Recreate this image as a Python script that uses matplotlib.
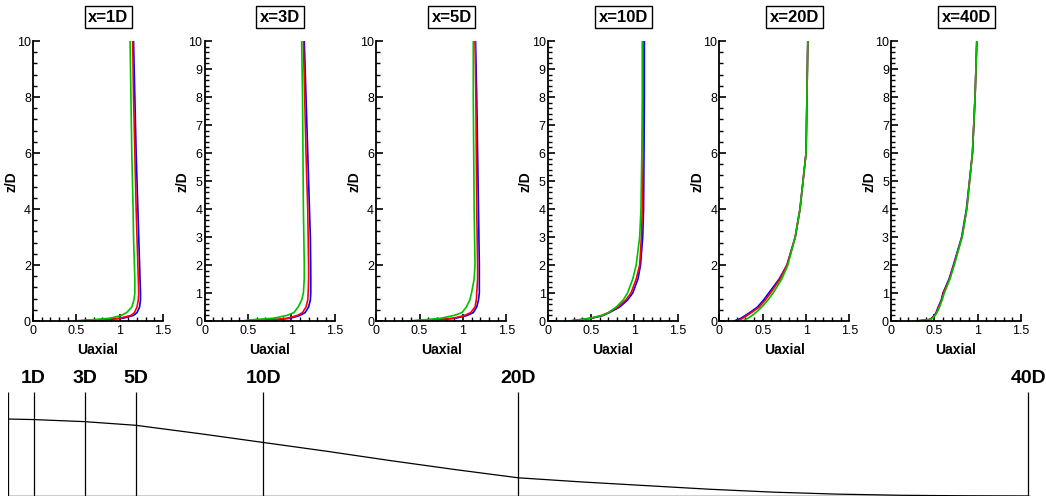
import matplotlib.pyplot as plt
from matplotlib.ticker import MultipleLocator

plt.rcParams['font.family'] = ['Liberation Sans', 'DejaVu Sans']

# stations and profile data
stations = [1, 3, 5, 10, 20, 40]
titles = ["x=1D", "x=3D", "x=5D", "x=10D", "x=20D", "x=40D"]
ymajor = [2, 1, 2, 1, 2, 1]

z = [0, 0.05, 0.1, 0.2, 0.3, 0.5, 0.75, 1, 1.5, 2, 3, 4, 6, 8, 10]

u_blue = [
    [0.50, 0.85, 1.04, 1.16, 1.20, 1.23, 1.24, 1.24, 1.235, 1.23, 1.22, 1.21, 1.19, 1.175, 1.16],
    [0.45, 0.84, 0.99, 1.10, 1.16, 1.20, 1.22, 1.225, 1.225, 1.224, 1.22, 1.21, 1.19, 1.17, 1.15],
    [0.40, 0.75, 0.92, 1.05, 1.12, 1.16, 1.18, 1.19, 1.19, 1.19, 1.185, 1.18, 1.17, 1.16, 1.146],
    [0.26, 0.39, 0.51, 0.64, 0.71, 0.83, 0.92, 0.98, 1.04, 1.07, 1.095, 1.105, 1.11, 1.114, 1.114],
    [0.17, 0.21, 0.25, 0.30, 0.35, 0.44, 0.51, 0.57, 0.69, 0.78, 0.875, 0.93, 1.00, 1.01, 1.02],
    [0.30, 0.44, 0.47, 0.50, 0.52, 0.545, 0.58, 0.60, 0.67, 0.72, 0.815, 0.87, 0.94, 0.97, 0.99],
]
u_red = [
    [0.50, 0.82, 1.00, 1.13, 1.17, 1.20, 1.215, 1.22, 1.215, 1.21, 1.20, 1.19, 1.175, 1.16, 1.15],
    [0.45, 0.80, 0.96, 1.07, 1.13, 1.17, 1.19, 1.195, 1.20, 1.20, 1.195, 1.19, 1.17, 1.155, 1.14],
    [0.40, 0.72, 0.89, 1.02, 1.09, 1.14, 1.155, 1.16, 1.17, 1.17, 1.165, 1.16, 1.155, 1.15, 1.14],
    [0.26, 0.38, 0.50, 0.63, 0.70, 0.81, 0.90, 0.96, 1.02, 1.06, 1.08, 1.09, 1.10, 1.10, 1.10],
    [0.21, 0.24, 0.27, 0.32, 0.37, 0.46, 0.53, 0.59, 0.70, 0.78, 0.875, 0.93, 1.00, 1.01, 1.02],
    [0.30, 0.445, 0.47, 0.505, 0.525, 0.55, 0.585, 0.605, 0.675, 0.725, 0.82, 0.875, 0.94, 0.97, 0.99],
]
u_green = [
    [0.47, 0.70, 0.89, 1.02, 1.08, 1.14, 1.165, 1.175, 1.175, 1.17, 1.16, 1.155, 1.14, 1.13, 1.12],
    [0.42, 0.57, 0.80, 0.95, 1.03, 1.08, 1.12, 1.14, 1.15, 1.15, 1.145, 1.14, 1.135, 1.13, 1.12],
    [0.37, 0.58, 0.75, 0.90, 0.99, 1.04, 1.08, 1.10, 1.13, 1.14, 1.135, 1.13, 1.125, 1.12, 1.12],
    [0.24, 0.37, 0.49, 0.62, 0.70, 0.79, 0.87, 0.92, 0.98, 1.02, 1.06, 1.075, 1.085, 1.09, 1.09],
    [0.27, 0.30, 0.33, 0.38, 0.42, 0.49, 0.56, 0.62, 0.72, 0.79, 0.875, 0.93, 1.00, 1.01, 1.02],
    [0.30, 0.45, 0.48, 0.51, 0.53, 0.56, 0.59, 0.615, 0.68, 0.73, 0.82, 0.875, 0.94, 0.97, 0.99],
]

# bottom sketch: wake outline along the streamwise direction
sketch_x = [0, 1, 3, 5, 7.5, 10, 12.5, 15, 17.5, 20, 22.5, 25, 27.5, 30, 32.5, 35, 37.5, 40]
sketch_h = [0.74, 0.735, 0.715, 0.68, 0.60, 0.515, 0.43, 0.34, 0.255, 0.175, 0.135, 0.10, 0.065, 0.037, 0.018, 0.007, 0.002, 0.0]

W, H = 1046, 502
fig = plt.figure(figsize=(W / 100, H / 100), dpi=100)

left0, step, pw = 33, 171.6, 130
top, bot = 42, 322
for i in range(6):
    ax = fig.add_axes([(left0 + i * step) / W, 1 - bot / H, pw / W, (bot - top) / H])
    ax.plot(u_blue[i], z, color='#0000ff', lw=1.2)
    ax.plot(u_red[i], z, color='#ff0000', lw=1.2)
    ax.plot(u_green[i], z, color='#00c000', lw=1.2)
    ax.set_xlim(0, 1.5)
    ax.set_ylim(0, 10)
    for s in ['top', 'right']:
        ax.spines[s].set_visible(False)
    for s in ['left', 'bottom']:
        ax.spines[s].set_linewidth(1.3)
    ax.xaxis.set_major_locator(MultipleLocator(0.5))
    ax.xaxis.set_minor_locator(MultipleLocator(0.1))
    ax.yaxis.set_major_locator(MultipleLocator(ymajor[i]))
    ax.yaxis.set_minor_locator(MultipleLocator(ymajor[i] / 5))
    ax.set_xticks([0, 0.5, 1, 1.5])
    ax.set_xticklabels(['0', '0.5', '1', '1.5'])
    ax.tick_params(which='major', direction='in', length=5, width=1.2, labelsize=9)
    ax.tick_params(axis='x', which='major', pad=2.5)
    ax.tick_params(axis='y', which='major', pad=1.5)
    ax.tick_params(which='minor', direction='in', length=2.8, width=1)
    ax.set_xlabel('Uaxial', fontsize=10, fontweight='bold')
    ax.set_ylabel('z/D', fontsize=10, fontweight='bold')
    ax.xaxis.set_label_coords(0.5, -21 / (bot - top))
    ax.yaxis.set_label_coords(-15 / pw, 0.5)
    ax.text(0.58, 1.086, titles[i], transform=ax.transAxes, ha='center', va='center',
            fontsize=12, fontweight='bold',
            bbox=dict(boxstyle='square,pad=0.22', fc='white', ec='black', lw=1))

# bottom sketch
axb = fig.add_axes([8 / W, 1 - 497 / H, (1031 - 8) / W, (497 - 393) / H])
axb.set_xlim(0, 40.1)
axb.set_ylim(0, 1)
axb.axis('off')
axb.axhline(0, color='black', lw=1)
axb.vlines([0] + stations, 0, 1, color='black', lw=0.9)
axb.plot(sketch_x, sketch_h, color='black', lw=0.9)
for s in stations:
    axb.text(s, 1.06, f"{s}D", ha='center', va='bottom', fontsize=14, fontweight='bold')

fig.savefig('out.png', dpi=100)
